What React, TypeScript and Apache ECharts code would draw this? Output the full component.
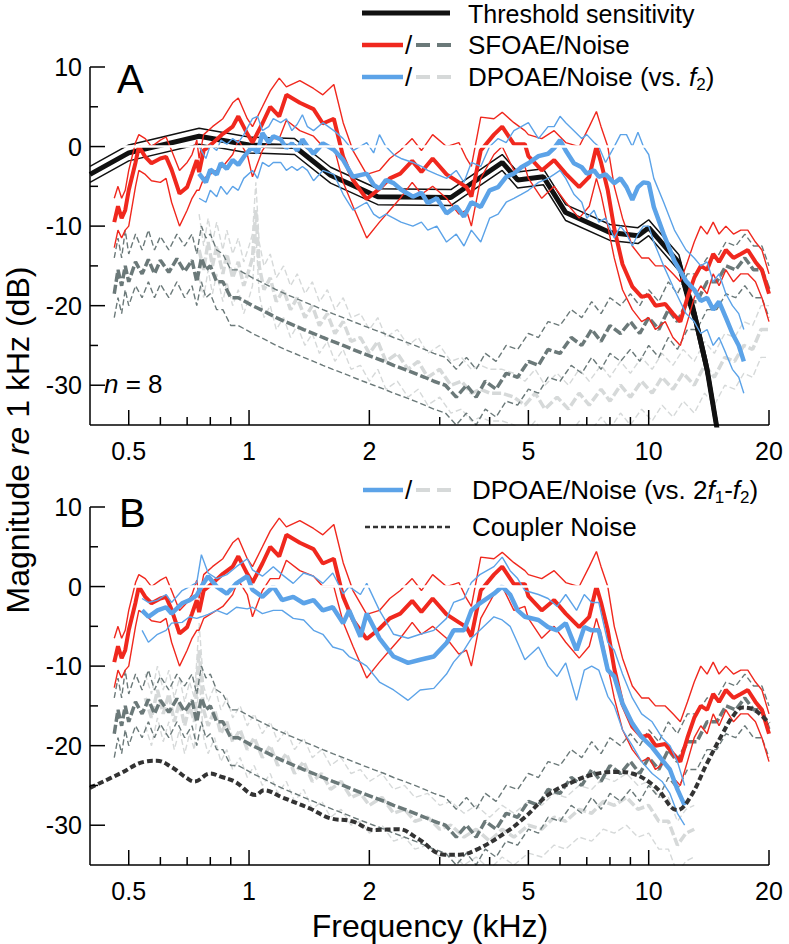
import React, { useEffect, useRef } from 'react';
import * as echarts from 'echarts';

const FONT = '"Liberation Sans", Arial, Helvetica, sans-serif';
const RED = '#F0281E';
const BLUE = '#5CA3E8';
const DGRAY = '#6B7979';
const LGRAY = '#D6D9D9';
const BLACK = '#111111';
const CPL = '#333333';

// ---- Threshold sensitivity (panel A)
const THR_FREQ = [0.4, 0.5, 0.75, 1.0, 1.3, 1.6, 2.1, 3.2, 4.3, 4.7, 5.45, 6.2, 8.0, 9.4, 10.0, 11.9, 12.4, 13.0, 14.0, 15.0];
const THR_MEAN = [-3.5, -0.8, 1.3, 0.2, 0.0, -3.6, -6.3, -6.4, -2.0, -4.2, -3.8, -8.3, -10.8, -11.2, -10.2, -14.6, -18.0, -21.0, -28.0, -37.0];
const THR_UPPER = [-2.5, 0.2, 2.3, 1.2, 1.0, -2.6, -5.3, -5.4, -1.0, -3.2, -2.8, -7.3, -9.8, -10.2, -9.2, -13.6, -17.0, -20.0, -27.0, -36.0];
const THR_LOWER = [-4.5, -1.8, 0.3, -0.8, -1.0, -4.6, -7.3, -7.4, -3.0, -5.2, -4.8, -9.3, -11.8, -12.2, -11.2, -15.6, -19.0, -22.0, -29.0, -38.0];

// ---- SFOAE (both panels)
const SF_FREQ = [0.46, 0.47, 0.48, 0.49, 0.5, 0.52, 0.53, 0.55, 0.57, 0.6, 0.62, 0.64, 0.67, 0.7, 0.72, 0.74, 0.75, 0.77, 0.81, 0.86, 0.91, 0.94, 0.99, 1.02, 1.08, 1.13, 1.19, 1.24, 1.34, 1.45, 1.53, 1.63, 1.72, 1.82, 1.97, 2.12, 2.25, 2.39, 2.56, 2.7, 2.88, 3.12, 3.35, 3.5, 3.6, 3.8, 4.1, 4.3, 4.6, 4.9, 5.0, 5.4, 5.8, 6.2, 6.7, 7.1, 7.4, 7.6, 7.9, 8.2, 8.6, 9.1, 9.6, 10.0, 10.4, 11.0, 11.5, 12.0, 12.5, 13.0, 13.5, 14.0, 14.5, 15.0, 15.6, 16.3, 17.0, 17.7, 18.5, 19.2, 20.0];
const SF_MEAN = [-9.5, -7.5, -9.0, -8.0, -5.5, -2.0, 0.0, -1.3, -2.1, -1.5, -1.3, -2.9, -5.9, -5.1, -3.4, -1.7, -3.2, -0.5, 0.4, 1.6, 2.5, 3.8, 1.6, 0.5, 2.9, 5.0, 3.8, 6.5, 5.5, 4.7, 2.9, 3.5, -1.3, -4.2, -6.6, -5.3, -4.0, -3.4, -1.8, -3.2, -1.5, -3.5, -4.5, -5.1, -6.3, -0.5, 1.5, 2.5, 0.3, 0.3, -1.2, -3.0, -1.7, -3.4, -5.1, -3.8, 0.0, -2.0, -5.5, -10.3, -14.8, -17.6, -18.9, -18.7, -20.0, -19.8, -21.0, -22.0, -19.0, -16.5, -15.0, -15.5, -13.5, -14.5, -13.0, -14.0, -13.5, -13.0, -14.5, -15.5, -18.5];
const SF_UPPER = [-6.5, -5.0, -6.5, -5.5, -3.0, 0.5, 1.5, 1.0, 0.0, 0.8, 1.2, -0.5, -3.0, -2.0, -1.0, 0.8, -1.5, 1.5, 2.5, 3.5, 5.5, 6.1, 3.5, 2.5, 5.0, 7.0, 8.6, 7.5, 8.3, 7.3, 6.5, 7.8, 3.0, -0.5, -3.5, -3.0, -1.5, -0.5, 1.0, -0.5, 1.5, 0.0, 0.5, -1.5, -2.5, 3.7, 3.5, 4.3, 3.0, 2.0, 1.5, 1.0, 2.0, 0.5, 0.0, 2.5, 4.4, 2.5, 0.0, -5.0, -9.0, -12.5, -14.0, -14.0, -15.0, -15.0, -16.0, -17.0, -14.5, -12.0, -10.0, -11.0, -9.5, -11.0, -10.0, -11.0, -10.5, -10.5, -12.0, -13.0, -16.0];
const SF_LOWER = [-12.7, -10.5, -11.5, -10.5, -10.0, -5.0, -3.0, -3.5, -4.3, -4.5, -4.0, -7.0, -10.0, -8.0, -6.5, -5.5, -5.5, -4.0, -3.3, -2.5, -1.0, 0.8, -1.0, -3.8, -0.5, 1.0, 1.0, 3.3, 2.0, 1.3, 0.0, 0.0, -4.5, -7.5, -11.5, -9.5, -8.0, -6.5, -4.5, -6.0, -5.0, -6.5, -8.5, -8.0, -10.0, -4.0, -1.0, 0.0, -3.0, -2.5, -4.0, -6.5, -5.0, -7.0, -9.0, -7.5, -4.0, -6.0, -10.0, -14.0, -18.0, -20.5, -22.0, -21.5, -23.0, -22.0, -24.0, -25.0, -22.0, -19.0, -17.5, -18.5, -16.0, -17.5, -15.5, -17.0, -16.0, -16.0, -17.0, -19.0, -22.0];

// ---- SFOAE noise (both panels)
const SFN_FREQ = [0.46, 0.47, 0.48, 0.49, 0.5, 0.52, 0.54, 0.56, 0.58, 0.6, 0.63, 0.66, 0.69, 0.72, 0.74, 0.76, 0.78, 0.8, 0.83, 0.86, 0.9, 0.94, 0.98, 1.02, 1.07, 1.12, 1.17, 1.23, 1.3, 1.37, 1.45, 1.53, 1.62, 1.72, 1.82, 1.93, 2.05, 2.18, 2.3, 2.45, 2.6, 2.75, 2.9, 3.1, 3.3, 3.5, 3.7, 3.9, 4.15, 4.4, 4.7, 5.0, 5.3, 5.6, 6.0, 6.4, 6.8, 7.2, 7.6, 8.0, 8.5, 9.0, 9.5, 10.0, 10.6, 11.2, 11.8, 12.5, 13.2, 14.0, 14.8, 15.6, 16.5, 17.4, 18.3, 19.2, 20.0];
const SFN_MEAN = [-18.5, -15.5, -17.5, -15, -17, -14.5, -16, -14.2, -16, -14.3, -15.8, -14.1, -15.7, -14.3, -17, -14, -15.5, -15, -17, -17, -19, -19, -19.5, -20, -20.5, -21, -21.5, -22, -22.5, -23, -23.5, -24, -24.5, -25, -25.5, -26, -26.5, -27, -27.5, -28, -28.5, -29, -29.5, -30, -31.5, -30, -31.5, -29.5, -30.5, -28.5, -29, -27, -27.5, -25.5, -26, -24, -25, -23, -24.5, -22.5, -23.5, -22, -23.5, -21.5, -23, -20.5, -22, -19.5, -19.5, -17, -17, -15, -15.5, -14, -15.5, -15.5, -18];
const SFN_UPPER = [-14, -11.5, -14, -10.5, -13.5, -11, -13, -10.5, -13, -11.3, -13, -11, -12.5, -11, -13.5, -10, -11.5, -11, -13, -13.5, -15.5, -15.5, -16, -16.5, -17, -17.5, -18, -18.5, -19, -19.5, -20, -20.5, -21, -21.5, -22, -22.5, -23, -23.5, -24, -24.5, -25, -25.5, -26, -26.5, -28, -26.5, -28, -26, -27, -25, -25.5, -23.5, -24, -22, -22.5, -20.5, -21.5, -19.5, -21, -19, -20, -18.5, -20, -18, -19.5, -17, -18.5, -16, -16, -14, -14, -12, -12.5, -11, -12.5, -12.5, -15];
const SFN_LOWER = [-21.5, -19, -21, -18, -20, -17.5, -19, -17, -19, -17.3, -19, -17, -19, -17.5, -20, -17, -19, -18.5, -20.5, -20.5, -22.5, -22.5, -23, -23.5, -24, -24.5, -25, -25.5, -26, -26.5, -27, -27.5, -28, -28.5, -29, -29.5, -30, -30.5, -31, -31.5, -32, -32.5, -33, -33.5, -35, -33.5, -35, -33, -34, -32, -32.5, -30.5, -31, -29, -29.5, -27.5, -28.5, -26.5, -28, -26, -27, -25.5, -27, -25, -26.5, -24, -25.5, -23, -23, -20.5, -20.5, -18.5, -19, -17.5, -19, -19, -21.5];

// ---- DPOAE vs f2 (panel A)
const DPF_FREQ = [0.75, 0.78, 0.8, 0.83, 0.85, 0.88, 0.91, 0.94, 0.97, 1.02, 1.05, 1.08, 1.12, 1.15, 1.2, 1.24, 1.28, 1.32, 1.36, 1.4, 1.45, 1.53, 1.63, 1.72, 1.82, 1.97, 2.05, 2.12, 2.2, 2.3, 2.4, 2.57, 2.7, 2.8, 2.95, 3.12, 3.3, 3.45, 3.6, 3.8, 4.0, 4.2, 4.4, 4.6, 4.8, 5.0, 5.3, 5.6, 5.8, 6.0, 6.2, 6.5, 6.8, 7.0, 7.3, 7.5, 7.8, 8.2, 8.5, 8.8, 9.1, 9.4, 9.7, 10.0, 10.3, 10.9, 11.6, 12.4, 13.0, 13.5, 14.0, 14.5, 15.0, 15.6, 16.2, 16.8, 17.3];
const DPF_MEAN = [-3.4, -4.5, -2.9, -3.5, -2.1, -2.8, -1.7, -2.3, -1.3, 0.0, -0.8, 1.7, 0.5, 1.3, 0.9, -0.2, 0.4, -0.5, 0.9, 0.0, -0.9, 0.4, -0.4, -1.7, -3.8, -3.4, -4.8, -5.3, -4.2, -4.6, -5.4, -6.3, -5.8, -7.1, -6.5, -8.4, -7.5, -8.8, -7.0, -7.6, -5.5, -5.1, -3.8, -3.4, -2.6, -2.1, -1.2, -0.9, -0.2, 0.8, -0.5, -2.1, -2.6, -3.4, -3.0, -3.8, -3.5, -4.6, -4.0, -5.1, -6.7, -5.1, -4.5, -4.6, -7.6, -11.0, -14.4, -16.9, -18.0, -19.4, -19.0, -20.5, -19.5, -21.5, -23.5, -25.0, -27.0];
const DPF_UPPER = [0.0, -1.5, 0.2, -0.5, 0.8, 0.3, 1.0, 0.5, 1.5, 3.5, 3.8, 2.0, 2.5, 3.5, 3.0, 3.5, 2.0, 2.8, 4.0, 2.5, 2.0, 3.0, 2.0, 1.0, -0.5, 0.5, -0.8, 1.5, 0.0, -1.0, -1.5, -2.0, -2.5, -3.0, -3.5, -4.0, -3.0, -4.5, -2.0, -2.5, 0.0, 1.0, 0.5, 2.0, 2.5, 3.0, 1.0, 2.5, 2.5, 3.8, 3.0, 2.0, 1.0, 1.5, 0.5, 0.0, -2.0, 0.0, 1.5, 1.5, 0.0, 1.8, 0.0, -1.0, -4.0, -7.0, -10.5, -13.0, -14.0, -15.0, -14.5, -17.0, -16.0, -18.5, -20.0, -21.0, -23.0];
const DPF_LOWER = [-6.5, -7.0, -5.5, -6.3, -5.0, -6.0, -5.0, -5.5, -4.0, -3.0, -4.0, -2.0, -2.5, -2.0, -2.0, -3.0, -2.5, -3.0, -2.5, -3.0, -4.3, -3.0, -3.5, -6.0, -8.0, -7.0, -8.5, -9.0, -8.5, -9.0, -9.5, -10.0, -9.5, -10.5, -10.0, -12.0, -11.0, -12.5, -10.5, -12.0, -9.0, -8.5, -7.0, -6.5, -6.0, -5.5, -4.5, -4.0, -3.5, -3.0, -4.0, -6.0, -7.0, -9.0, -8.0, -9.5, -9.0, -11.5, -10.0, -11.0, -12.5, -11.0, -10.0, -10.0, -12.0, -15.0, -18.0, -21.0, -22.0, -23.5, -23.0, -25.0, -24.0, -26.0, -28.0, -29.0, -31.0];

// ---- DPOAE noise vs f2 (panel A)
const DPNA_FREQ = [0.75, 0.77, 0.79, 0.81, 0.83, 0.86, 0.88, 0.91, 0.94, 0.97, 1.0, 1.02, 1.04, 1.06, 1.09, 1.13, 1.17, 1.22, 1.27, 1.32, 1.38, 1.44, 1.5, 1.57, 1.64, 1.72, 1.8, 1.9, 2.0, 2.1, 2.2, 2.35, 2.5, 2.65, 2.8, 3.0, 3.2, 3.4, 3.6, 3.8, 4.0, 4.3, 4.6, 4.9, 5.2, 5.5, 5.9, 6.3, 6.7, 7.1, 7.6, 8.0, 8.5, 9.0, 9.6, 10.2, 10.8, 11.5, 12.2, 13.0, 13.8, 14.6, 15.5, 16.4, 17.3, 18.2, 19.1, 20.0];
const DPNA_MEAN = [-13, -15.5, -12, -15, -12.5, -16, -13.5, -16.5, -14.5, -17.5, -15.5, -14, -8, -15, -18, -16.5, -19.5, -18, -20.5, -19, -21.5, -20, -22.5, -21, -23.5, -22, -24.5, -24, -26, -24.5, -27, -26, -28, -27, -29, -28, -30, -29.5, -31, -30.5, -31, -31, -31.5, -32.5, -31, -33, -31.5, -33, -31, -32.5, -30.5, -32, -30, -31.5, -29.5, -31, -29, -30.5, -28.5, -30, -27.5, -29, -26.5, -27, -25, -25.5, -23, -23];
const DPNA_UPPER = [-8.5, -12.5, -9, -12, -9.5, -13, -10.5, -13.5, -11.5, -14.5, -12.5, -11, -4.5, -12, -15, -13.5, -16.5, -15, -17.5, -16, -18.5, -17, -19.5, -18, -20.5, -19, -21.5, -21, -23, -21.5, -24, -23, -25, -24, -26, -25, -27, -26.5, -28, -27.5, -28, -28, -28.5, -29.5, -28, -30, -28.5, -30, -28, -29.5, -27.5, -29, -27, -28.5, -26.5, -28, -26, -27.5, -25.5, -27, -24.5, -26, -23.5, -24, -22, -22.5, -20, -20];
const DPNA_LOWER = [-16.5, -19, -15.5, -18.5, -16, -19.5, -17, -20, -18, -21, -19, -17.5, -11, -18.5, -21.5, -20, -23, -21.5, -24, -22.5, -25, -23.5, -26, -24.5, -27, -25.5, -28, -27.5, -29.5, -28, -30.5, -29.5, -31.5, -30.5, -32.5, -31.5, -33.5, -33, -34.5, -34, -34.5, -34.5, -35, -36, -34.5, -36.5, -35, -36.5, -34.5, -36, -34, -35.5, -33.5, -35, -33, -34.5, -32.5, -34, -32, -33.5, -31, -32.5, -30, -30.5, -28.5, -29, -26.5, -26.5];

// ---- DPOAE vs 2f1-f2 (panel B)
const DPB_FREQ = [0.54, 0.56, 0.59, 0.62, 0.64, 0.68, 0.71, 0.74, 0.76, 0.79, 0.83, 0.88, 0.93, 0.99, 1.02, 1.08, 1.15, 1.21, 1.29, 1.37, 1.45, 1.53, 1.62, 1.72, 1.78, 1.9, 1.97, 2.12, 2.3, 2.5, 2.68, 2.9, 3.12, 3.25, 3.45, 3.6, 3.78, 4.1, 4.3, 4.5, 4.7, 4.9, 5.3, 5.6, 5.9, 6.2, 6.6, 6.9, 7.2, 7.5, 7.9, 8.2, 8.6, 9.1, 9.6, 10.2, 10.8, 11.3, 11.8, 12.3];
const DPB_MEAN = [-3.0, -3.8, -3.0, -2.6, -3.4, -2.1, -1.7, -1.1, 0.0, 1.3, 0.0, -0.9, 0.4, 1.3, -0.4, -1.3, 0.0, -1.7, -1.3, -2.1, -1.7, -3.0, -2.6, -4.6, -3.0, -6.3, -3.4, -6.5, -8.8, -9.6, -9.2, -8.8, -7.1, -5.5, -5.5, -3.0, -2.1, -0.9, 0.0, -1.0, -3.0, -3.8, -4.2, -5.1, -5.5, -4.6, -8.0, -5.1, -5.5, -5.5, -10.5, -11.3, -14.7, -17.2, -18.9, -20.2, -21.8, -23.0, -25.5, -27.5];
const DPB_UPPER = [-1.5, -2.0, -1.7, -1.0, -2.0, -0.5, 0.0, 0.5, 4.0, 1.7, 1.0, 1.5, 2.5, 3.5, 2.1, 1.3, 2.5, 1.5, 0.4, 1.7, 1.3, 0.4, 1.7, -0.9, 0.0, -1.0, 0.4, -3.0, -6.0, -6.5, -6.0, -5.5, -4.0, -2.0, -1.5, 0.5, 1.5, 2.5, 3.7, 2.0, 1.0, -0.5, -1.0, -1.5, -2.5, -1.0, -3.0, -1.0, -2.0, -2.0, -7.0, -8.0, -11.0, -14.0, -16.0, -17.0, -19.0, -20.0, -22.0, -25.0];
const DPB_LOWER = [-5.5, -7.0, -6.0, -5.5, -4.6, -4.5, -3.8, -4.0, -3.8, -3.5, -3.0, -3.5, -2.6, -2.8, -2.6, -3.4, -3.0, -3.0, -4.0, -4.2, -5.5, -6.0, -7.6, -8.0, -8.8, -9.5, -10.0, -12.0, -13.0, -14.3, -13.0, -12.8, -11.0, -9.5, -8.0, -6.5, -5.5, -3.8, -4.2, -5.0, -7.1, -9.2, -7.6, -10.0, -11.3, -9.6, -14.3, -10.5, -10.0, -10.5, -13.8, -15.0, -18.0, -20.0, -22.0, -23.5, -24.5, -26.0, -28.5, -30.0];

// ---- DPOAE noise vs 2f1-f2 (panel B)
const DPNB_FREQ = [0.55, 0.57, 0.59, 0.61, 0.63, 0.65, 0.67, 0.69, 0.71, 0.73, 0.75, 0.77, 0.79, 0.82, 0.85, 0.88, 0.91, 0.95, 0.99, 1.03, 1.08, 1.13, 1.18, 1.24, 1.3, 1.37, 1.44, 1.52, 1.6, 1.7, 1.8, 1.9, 2.0, 2.15, 2.3, 2.45, 2.6, 2.8, 3.0, 3.2, 3.45, 3.7, 4.0, 4.3, 4.6, 5.0, 5.4, 5.8, 6.2, 6.7, 7.2, 7.7, 8.2, 8.8, 9.4, 10.0, 10.6, 11.2, 11.8, 12.4, 13.0];
const DPNB_MEAN = [-14, -16.5, -13, -16, -13.5, -17, -14.5, -17.5, -15, -17, -8, -15.5, -17.5, -15.5, -18.5, -17, -19.5, -18, -20.5, -19, -21.5, -20, -22.5, -21, -23.5, -22, -24.5, -23.5, -25.5, -24.5, -26.5, -26, -27.5, -26.5, -28.5, -28, -29.5, -29, -30.5, -30, -31.5, -30.5, -32, -30.5, -31.5, -30, -30.5, -29, -29.5, -28, -28.5, -27, -27.5, -26.5, -28, -27.5, -29.5, -29.5, -32.5, -31, -30.5];
const DPNB_UPPER = [-11, -13.5, -10, -13, -10.5, -14, -11.5, -14.5, -12, -14, -4.6, -12.5, -14.5, -12.5, -15.5, -14, -16.5, -15, -17.5, -16, -18.5, -17, -19.5, -18, -20.5, -19, -21.5, -20.5, -22.5, -21.5, -23.5, -23, -24.5, -23.5, -25.5, -25, -26.5, -26, -27.5, -27, -28.5, -27.5, -29, -27.5, -28.5, -27, -27.5, -26, -26.5, -25, -25.5, -24, -24.5, -23.5, -25, -24.5, -26.5, -26.5, -29.5, -28, -27.5];
const DPNB_LOWER = [-17.5, -20, -16.5, -19.5, -17, -20.5, -18, -21, -18.5, -20.5, -11.5, -19, -21, -19, -22, -20.5, -23, -21.5, -24, -22.5, -25, -23.5, -26, -24.5, -27, -25.5, -28, -27, -29, -28, -30, -29.5, -31, -30, -32, -31.5, -33, -32.5, -34, -33.5, -35, -34, -35.5, -34, -35, -33.5, -34, -32.5, -33, -31.5, -32, -30.5, -31, -30, -31.5, -31, -33, -33, -36, -34.5, -34];

// ---- Coupler noise (panel B)
const CPL_FREQ = [0.4, 0.476, 0.55, 0.588, 0.64, 0.7, 0.73, 0.8, 0.85, 0.92, 1.04, 1.09, 1.21, 1.42, 1.59, 1.81, 2.06, 2.37, 2.63, 3.09, 3.36, 3.7, 4.36, 4.9, 5.6, 6.36, 7.3, 8.4, 9.1, 10.4, 11.8, 12.7, 14.0, 15.3, 16.3, 17.2, 18.5, 20.0];
const CPL_DB = [-25.3, -23.5, -22.0, -21.9, -22.7, -24.1, -24.5, -23.5, -23.9, -24.5, -26.2, -25.6, -26.5, -27.9, -29.1, -29.5, -30.6, -30.5, -31.6, -33.7, -33.7, -33.1, -31.0, -29.0, -26.2, -24.7, -23.6, -23.3, -23.5, -25.2, -28.1, -26.5, -22.2, -18.5, -16.2, -15.2, -15.6, -17.2];

// ---- Axis ticks
const X_TICKS = [0.5, 0.6, 0.7, 0.8, 0.9, 1, 2, 3, 4, 5, 6, 7, 8, 9, 10, 20];
const X_MAJOR = [0.5, 1, 2, 5, 10, 20];
const X_LABELS = ['0.5', '1', '2', '5', '10', '20'];
const Y_TICKS = [10, 5, 0, -5, -10, -15, -20, -25, -30];
const Y_LABELS = ['10', '', '0', '', '-10', '', '-20', '', '-30'];
const Y_MIN = -35;
const Y_MAX = 10;
const X_MIN = 0.4;
const X_MAX = 20;

const zip = (fs: number[], vs: number[]) => fs.map((f, i) => [f, vs[i]]);

function line(idx: number, fs: number[], vs: number[], color: string, width: number, dash?: number[], smooth?: number) {
  const s: any = {
    type: 'line',
    xAxisIndex: idx,
    yAxisIndex: idx,
    data: zip(fs, vs),
    symbol: 'none',
    silent: true,
    lineStyle: dash ? { color, width, type: dash.slice() } : { color, width },
  };
  if (smooth) s.smooth = smooth;
  return s;
}

const THIN = 1.4;
const NOISE_DASH = [9, 3];
const NOISE_DASH_THIN = [6, 3];

function buildOption() {
  const series: any[] = [
    line(0, DPNA_FREQ, DPNA_LOWER, LGRAY, THIN, NOISE_DASH_THIN),
    line(0, DPNA_FREQ, DPNA_UPPER, LGRAY, THIN, NOISE_DASH_THIN),
    line(0, DPNA_FREQ, DPNA_MEAN, LGRAY, 3.5, NOISE_DASH),
    line(0, SFN_FREQ, SFN_LOWER, DGRAY, THIN, NOISE_DASH_THIN),
    line(0, SFN_FREQ, SFN_UPPER, DGRAY, THIN, NOISE_DASH_THIN),
    line(0, SFN_FREQ, SFN_MEAN, DGRAY, 3.5, NOISE_DASH),
    line(0, THR_FREQ, THR_LOWER, BLACK, 1.5),
    line(0, THR_FREQ, THR_UPPER, BLACK, 1.5),
    line(0, THR_FREQ, THR_MEAN, BLACK, 5),
    line(0, SF_FREQ, SF_LOWER, RED, THIN),
    line(0, SF_FREQ, SF_UPPER, RED, THIN),
    line(0, SF_FREQ, SF_MEAN, RED, 4),
    line(0, DPF_FREQ, DPF_LOWER, BLUE, THIN),
    line(0, DPF_FREQ, DPF_UPPER, BLUE, THIN),
    line(0, DPF_FREQ, DPF_MEAN, BLUE, 4.5),
    line(1, DPNB_FREQ, DPNB_LOWER, LGRAY, THIN, NOISE_DASH_THIN),
    line(1, DPNB_FREQ, DPNB_UPPER, LGRAY, THIN, NOISE_DASH_THIN),
    line(1, DPNB_FREQ, DPNB_MEAN, LGRAY, 3.5, NOISE_DASH),
    line(1, SFN_FREQ, SFN_LOWER, DGRAY, THIN, NOISE_DASH_THIN),
    line(1, SFN_FREQ, SFN_UPPER, DGRAY, THIN, NOISE_DASH_THIN),
    line(1, SFN_FREQ, SFN_MEAN, DGRAY, 3.5, NOISE_DASH),
    line(1, SF_FREQ, SF_LOWER, RED, THIN),
    line(1, SF_FREQ, SF_UPPER, RED, THIN),
    line(1, SF_FREQ, SF_MEAN, RED, 4),
    line(1, DPB_FREQ, DPB_LOWER, BLUE, THIN),
    line(1, DPB_FREQ, DPB_UPPER, BLUE, THIN),
    line(1, DPB_FREQ, DPB_MEAN, BLUE, 4.5),
    line(1, CPL_FREQ, CPL_DB, CPL, 4, [6, 3], 0.4),
  ];

  const xAxis = (gi: number) => ({
    show: false, type: 'log', logBase: 10, gridIndex: gi, min: X_MIN, max: X_MAX,
    axisLine: { show: false, onZero: false },
  });
  const yAxis = (gi: number) => ({
    show: false, type: 'value', gridIndex: gi, min: Y_MIN, max: Y_MAX, interval: 5,
    axisLine: { show: false, onZero: false },
  });

  return {
    animation: false,
    backgroundColor: '#ffffff',
    textStyle: { fontFamily: FONT },
    grid: [
      { left: 90, top: 67, width: 679, height: 358, show: false },
      { left: 90, top: 507, width: 679, height: 358, show: false },
    ],
    xAxis: [xAxis(0), xAxis(1)],
    yAxis: [yAxis(0), yAxis(1)],
    series,
  };
}

const txt = (x: number, y: number, text: string, fontSize: number, extra: any = {}) => ({
  type: 'text',
  x,
  y,
  silent: true,
  z: 20,
  style: { text, fontSize, fontFamily: FONT, fill: '#000', align: 'left', verticalAlign: 'middle', ...extra },
});
const segL = (x1: number, y1: number, x2: number, y2: number, stroke: string, lineWidth: number, lineDash?: number[], z = 20) => ({
  type: 'line',
  silent: true,
  z,
  shape: { x1, y1, x2, y2 },
  style: lineDash ? { stroke, lineWidth, lineDash } : { stroke, lineWidth },
});
const seg = (x1: number, x2: number, y: number, stroke: string, lineWidth: number, lineDash?: number[]) =>
  segL(x1, y, x2, y, stroke, lineWidth, lineDash);

const subRich = {
  i: { fontStyle: 'italic', fontSize: 26, fontFamily: FONT, lineHeight: 32 },
  s: { fontSize: 17, fontFamily: FONT, verticalAlign: 'bottom', lineHeight: 32 },
  n: { fontSize: 26, fontFamily: FONT, lineHeight: 32 },
};

function staticGraphic(): any[] {
  return [
    seg(362, 450, 13, BLACK, 5),
    txt(468, 14, 'Threshold sensitivity', 25),
    seg(362, 403, 45, RED, 4.5),
    txt(405, 45, '/', 26),
    seg(416, 452, 45, DGRAY, 4, [14, 7]),
    txt(468, 45, 'SFOAE/Noise', 26),
    seg(362, 403, 77, BLUE, 4.5),
    txt(405, 77, '/', 26),
    seg(416, 452, 77, LGRAY, 4, [14, 7]),
    txt(468, 77, '{n|DPOAE/Noise (vs. }{i|f}{s|2}{n|)}', 26, { rich: subRich }),
    seg(363, 403, 490, BLUE, 4.5),
    txt(405, 490, '/', 26),
    seg(416, 452, 490, LGRAY, 4, [14, 7]),
    txt(472, 490, '{n|DPOAE/Noise (vs. 2}{i|f}{s|1}{n|-}{i|f}{s|2}{n|)}', 26, { rich: subRich }),
    seg(365, 452, 527, CPL, 2.5, [5, 3]),
    txt(472, 527, 'Coupler Noise', 26),
    txt(117, 79, 'A', 40),
    txt(119, 513, 'B', 40),
    txt(104, 384, '{i|n}{n| = 8}', 26, { rich: subRich }),
    txt(430, 926, 'Frequency (kHz)', 32, { align: 'center' }),
    {
      type: 'text',
      x: 18,
      y: 440,
      rotation: Math.PI / 2,
      silent: true,
      z: 20,
      style: {
        text: '{a|Magnitude }{b|re}{a| 1 kHz (dB)}',
        align: 'center',
        verticalAlign: 'middle',
        fill: '#000',
        fontSize: 32,
        fontFamily: FONT,
        rich: {
          a: { fontSize: 32, fontFamily: FONT },
          b: { fontSize: 32, fontFamily: FONT, fontStyle: 'italic' },
        },
      },
    },
  ];
}

// Axes, ticks and tick labels placed through the chart's own scales
function axisGraphic(chart: any): any[] {
  const out: any[] = [];
  [0, 1].forEach((gi) => {
    const P = (x: number, y: number) => chart.convertToPixel({ gridIndex: gi }, [x, y]) as number[];
    const a = P(X_MIN, Y_MIN);
    const b = P(X_MAX, Y_MIN);
    const c = P(X_MIN, Y_MAX);
    const z0 = P(X_MIN, 0);
    const z1 = P(X_MAX, 0);
    // white mask over a stray zero baseline
    out.push(segL(z0[0] + 1, z0[1], z1[0] + 2, z1[1], '#ffffff', 2.5, undefined, 15));
    out.push(segL(a[0], a[1], b[0], b[1], '#000', 1.5));
    out.push(segL(a[0], a[1], c[0], c[1], '#000', 1.5));
    X_TICKS.forEach((f) => {
      const p = P(f, Y_MIN);
      const mi = X_MAJOR.indexOf(f);
      const len = mi >= 0 ? 15 : 8;
      out.push(segL(p[0], p[1], p[0], p[1] - len, '#000', 1.5));
      if (mi >= 0) out.push(txt(p[0], p[1] + 26, X_LABELS[mi], 25, { align: 'center' }));
    });
    Y_TICKS.forEach((v, i) => {
      const p = P(X_MIN, v);
      const len = Y_LABELS[i] ? 15 : 8;
      out.push(segL(p[0], p[1], p[0] + len, p[1], '#000', 1.5));
      if (Y_LABELS[i]) out.push(txt(p[0] - 8, p[1], Y_LABELS[i], 25, { align: 'right' }));
    });
  });
  return out;
}

export default function App() {
  const ref = useRef<HTMLDivElement>(null);
  useEffect(() => {
    if (!ref.current) return;
    const chart = echarts.init(ref.current, null, { renderer: 'svg' });
    chart.setOption(buildOption() as any);
    chart.setOption({ graphic: [...staticGraphic(), ...axisGraphic(chart)] } as any);
    return () => chart.dispose();
  }, []);
  return <div ref={ref} style={{ position: 'absolute', left: 0, top: 0, width: 789, height: 944, background: '#fff' }} />;
}
